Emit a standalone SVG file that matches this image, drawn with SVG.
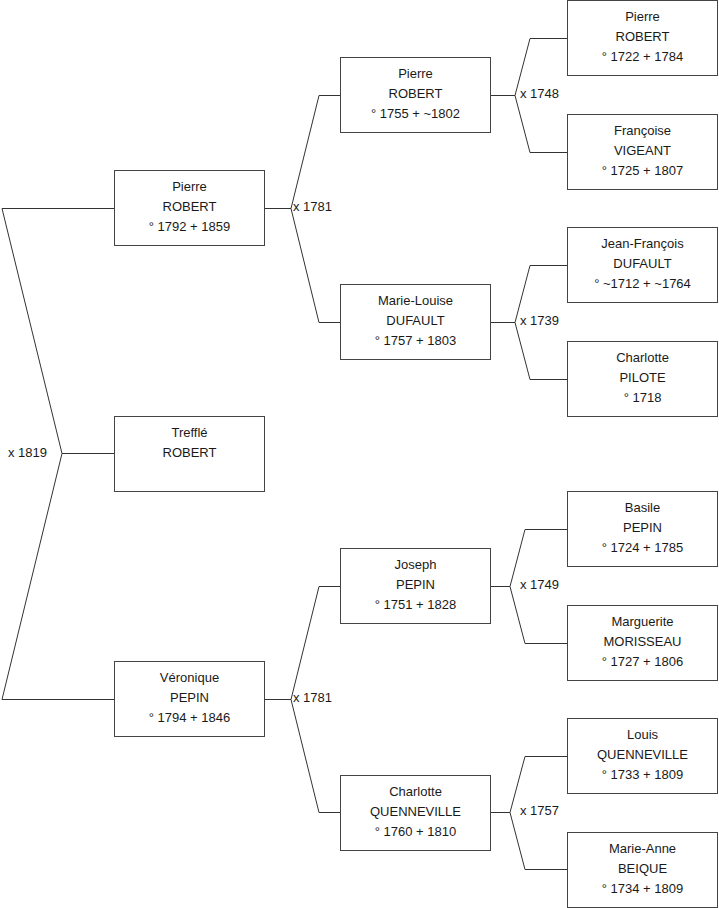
<svg xmlns="http://www.w3.org/2000/svg" width="719" height="908" viewBox="0 0 719 908">
<style>
.box{fill:#fff;stroke:#444;stroke-width:1}
.t{font-family:"Liberation Sans",Arial,sans-serif;font-size:13px;fill:#1a1a1a;text-anchor:middle}
.lbl{font-family:"Liberation Sans",Arial,sans-serif;font-size:13px;fill:#1a1a1a}
.c{fill:none;stroke:#333;stroke-width:1}
</style>
<rect width="719" height="908" fill="#fff"/>
<g id="connectors">
<path class="c" d="M114 208.5 H2 L62 453.5 L2 699.5 H114 M62 453.5 H114"/>
<path class="c" d="M265 208.5 H291 L319 95.5 H340 M291 208.5 L319 322.5 H340"/>
<path class="c" d="M265 699.5 H291 L319 586.5 H340 M291 699.5 L319 812.5 H340"/>
<path class="c" d="M491 95.5 H515 L530 38.5 H567 M515 95.5 L530 152.5 H567"/>
<path class="c" d="M491 322.5 H515 L530 265.5 H567 M515 322.5 L530 379.5 H567"/>
<path class="c" d="M491 586.5 H510 L525 529.5 H567 M510 586.5 L525 643.5 H567"/>
<path class="c" d="M491 812.5 H510 L525 756.5 H567 M510 812.5 L525 869.5 H567"/>
<text class="lbl" x="8" y="457">x 1819</text>
<text class="lbl" x="293" y="211">x 1781</text>
<text class="lbl" x="293" y="702">x 1781</text>
<text class="lbl" x="520" y="98">x 1748</text>
<text class="lbl" x="520" y="325">x 1739</text>
<text class="lbl" x="520" y="589">x 1749</text>
<text class="lbl" x="520" y="815">x 1757</text>
</g>
<g id="n-pierre-1792">
<rect class="box" x="114.5" y="170.5" width="150" height="75"/>
<text class="t" x="189.5" y="191">Pierre</text><text class="t" x="189.5" y="211">ROBERT</text><text class="t" x="189.5" y="231">° 1792 + 1859</text>
</g>
<g id="n-treffle">
<rect class="box" x="114.5" y="416.5" width="150" height="75"/>
<text class="t" x="189.5" y="437">Trefflé</text><text class="t" x="189.5" y="457">ROBERT</text>
</g>
<g id="n-veronique">
<rect class="box" x="114.5" y="661.5" width="150" height="75"/>
<text class="t" x="189.5" y="682">Véronique</text><text class="t" x="189.5" y="702">PEPIN</text><text class="t" x="189.5" y="722">° 1794 + 1846</text>
</g>
<g id="n-pierre-1755">
<rect class="box" x="340.5" y="57.5" width="150" height="75"/>
<text class="t" x="415.5" y="78">Pierre</text><text class="t" x="415.5" y="98">ROBERT</text><text class="t" x="415.5" y="118">° 1755 + ~1802</text>
</g>
<g id="n-marie-louise">
<rect class="box" x="340.5" y="284.5" width="150" height="75"/>
<text class="t" x="415.5" y="305">Marie-Louise</text><text class="t" x="415.5" y="325">DUFAULT</text><text class="t" x="415.5" y="345">° 1757 + 1803</text>
</g>
<g id="n-joseph">
<rect class="box" x="340.5" y="548.5" width="150" height="75"/>
<text class="t" x="415.5" y="569">Joseph</text><text class="t" x="415.5" y="589">PEPIN</text><text class="t" x="415.5" y="609">° 1751 + 1828</text>
</g>
<g id="n-charlotte-q">
<rect class="box" x="340.5" y="775.5" width="150" height="75"/>
<text class="t" x="415.5" y="796">Charlotte</text><text class="t" x="415.5" y="816">QUENNEVILLE</text><text class="t" x="415.5" y="836">° 1760 + 1810</text>
</g>
<g id="n-pierre-1722">
<rect class="box" x="567.5" y="0.5" width="150" height="75"/>
<text class="t" x="642.5" y="21">Pierre</text><text class="t" x="642.5" y="41">ROBERT</text><text class="t" x="642.5" y="61">° 1722 + 1784</text>
</g>
<g id="n-francoise">
<rect class="box" x="567.5" y="114.5" width="150" height="75"/>
<text class="t" x="642.5" y="135">Françoise</text><text class="t" x="642.5" y="155">VIGEANT</text><text class="t" x="642.5" y="175">° 1725 + 1807</text>
</g>
<g id="n-jean-francois">
<rect class="box" x="567.5" y="227.5" width="150" height="75"/>
<text class="t" x="642.5" y="248">Jean-François</text><text class="t" x="642.5" y="268">DUFAULT</text><text class="t" x="642.5" y="288">° ~1712 + ~1764</text>
</g>
<g id="n-charlotte-p">
<rect class="box" x="567.5" y="341.5" width="150" height="75"/>
<text class="t" x="642.5" y="362">Charlotte</text><text class="t" x="642.5" y="382">PILOTE</text><text class="t" x="642.5" y="402">° 1718</text>
</g>
<g id="n-basile">
<rect class="box" x="567.5" y="491.5" width="150" height="75"/>
<text class="t" x="642.5" y="512">Basile</text><text class="t" x="642.5" y="532">PEPIN</text><text class="t" x="642.5" y="552">° 1724 + 1785</text>
</g>
<g id="n-marguerite">
<rect class="box" x="567.5" y="605.5" width="150" height="75"/>
<text class="t" x="642.5" y="626">Marguerite</text><text class="t" x="642.5" y="646">MORISSEAU</text><text class="t" x="642.5" y="666">° 1727 + 1806</text>
</g>
<g id="n-louis">
<rect class="box" x="567.5" y="718.5" width="150" height="75"/>
<text class="t" x="642.5" y="739">Louis</text><text class="t" x="642.5" y="759">QUENNEVILLE</text><text class="t" x="642.5" y="779">° 1733 + 1809</text>
</g>
<g id="n-marie-anne">
<rect class="box" x="567.5" y="832.5" width="150" height="75"/>
<text class="t" x="642.5" y="853">Marie-Anne</text><text class="t" x="642.5" y="873">BEIQUE</text><text class="t" x="642.5" y="893">° 1734 + 1809</text>
</g>
</svg>
